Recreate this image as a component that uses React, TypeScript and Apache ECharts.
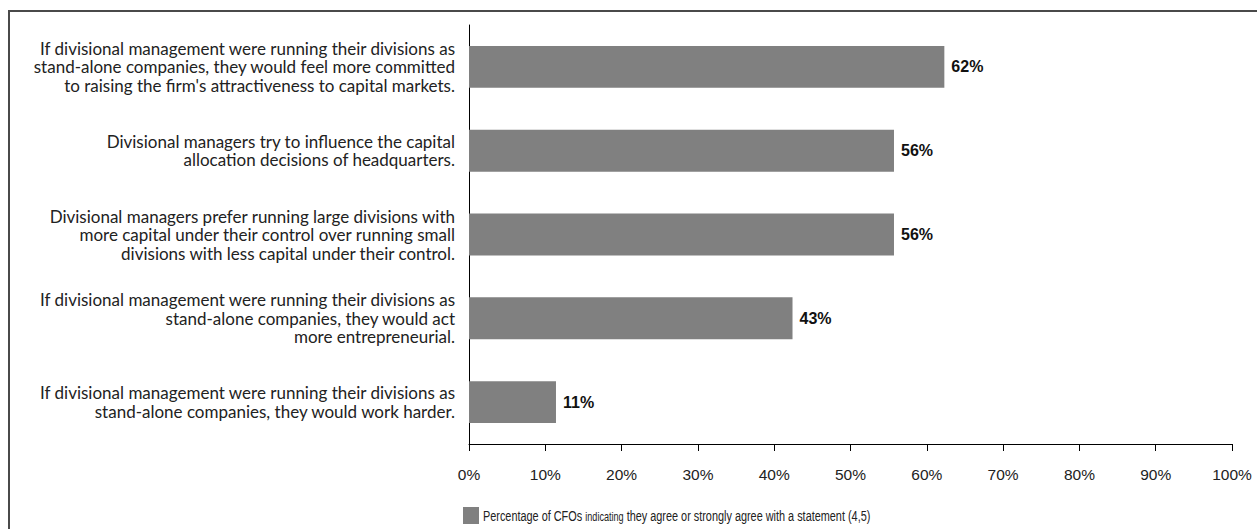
import React, { useEffect, useRef } from "react";
import * as echarts from "echarts";

const categories = [
  "If divisional management were running their divisions as\nstand-alone companies, they would feel more committed\nto raising the firm's attractiveness to capital markets.",
  "Divisional managers try to influence the capital\nallocation decisions of headquarters.",
  "Divisional managers prefer running large divisions with\nmore capital under their control over running small\ndivisions with less capital under their control.",
  "If divisional management were running their divisions as\nstand-alone companies, they would act\nmore entrepreneurial.",
  "If divisional management were running their divisions as\nstand-alone companies, they would work harder.",
];
const values = [62.3, 55.7, 55.7, 42.4, 11.4];
const labels = ["62%", "56%", "56%", "43%", "11%"];
const seriesName = "Percentage of CFOs indicating they agree or strongly agree with a statement (4,5)";
const legendParts = ["Percentage of CFOs ", "indicating", " they agree or strongly agree with a statement (4,5)"];

export default function App() {
  const ref = useRef<HTMLDivElement>(null);
  useEffect(() => {
    const chart = echarts.init(ref.current!, null, { renderer: "svg" });
    chart.setOption({
      animation: false,
      backgroundColor: "#fff",
      graphic: [
        {
          type: "rect",
          shape: { x: 9, y: 11, width: 1262, height: 540 },
          style: { fill: "none", stroke: "#4a4a4a", lineWidth: 2 },
          silent: true,
        },
        {
          type: "group",
          left: 463,
          top: 507,
          children: [
            {
              type: "rect",
              shape: { x: 0, y: 0, width: 16, height: 17 },
              style: { fill: "#808080" },
            },
            {
              type: "text",
              x: 20,
              y: 9,
              scaleX: 0.726,
              style: {
                text: `{a|${legendParts[0]}}{b|${legendParts[1]}}{a|${legendParts[2]}}`,
                verticalAlign: "middle",
                rich: {
                  a: { fontFamily: "Liberation Sans, Arial", fontSize: 15, fill: "#222" },
                  b: { fontFamily: "Liberation Sans, Arial", fontSize: 12.5, fill: "#222" },
                },
              },
            },
          ],
        },
      ],
      grid: { left: 469, right: 25, top: 25, bottom: 85, containLabel: false },
      xAxis: {
        type: "value",
        min: 0,
        max: 100,
        interval: 10,
        axisLine: { show: true, lineStyle: { color: "#000", width: 1 } },
        axisTick: { show: true, length: 7, lineStyle: { color: "#000" } },
        splitLine: { show: false },
        axisLabel: {
          formatter: "{value}%",
          margin: 22,
          fontFamily: "Liberation Sans, Arial",
          fontSize: 15.5,
          color: "#222",
        },
      },
      yAxis: {
        type: "category",
        data: categories,
        inverse: true,
        axisLine: { show: true, lineStyle: { color: "#000", width: 1 } },
        axisTick: { show: false },
        axisLabel: {
          margin: 14,
          fontFamily: "Lato, Carlito, Calibri, sans-serif",
          fontSize: 17,
          lineHeight: 18.5,
          color: "#222",
          align: "right",
        },
      },
      series: [
        {
          name: seriesName,
          type: "bar",
          data: values,
          barWidth: "50%",
          itemStyle: { color: "#808080" },
          label: {
            show: true,
            position: "right",
            distance: 7,
            formatter: (p: any) => labels[p.dataIndex],
            fontFamily: "Liberation Sans, Arial",
            fontWeight: "bold",
            fontSize: 16,
            color: "#111",
          },
        },
      ],
    });
    return () => chart.dispose();
  }, []);
  return (
    <div
      ref={ref}
      style={{ position: "absolute", left: 0, top: 0, width: 1257, height: 529 }}
    />
  );
}
